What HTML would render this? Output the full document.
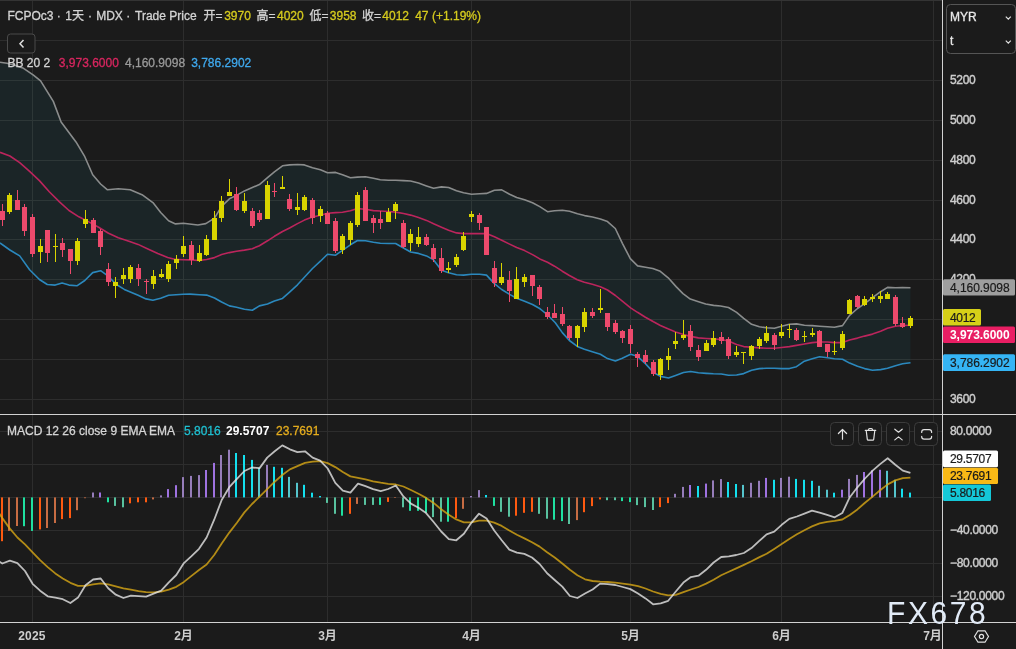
<!DOCTYPE html>
<html lang="zh"><head><meta charset="utf-8"><title>FCPOc3</title>
<style>html,body{margin:0;padding:0;background:#1b1b1b;}body{width:1016px;height:649px;overflow:hidden;position:relative;font-family:"Liberation Sans","Noto Sans CJK SC",sans-serif;}</style>
</head><body>
<svg width="1016" height="649" viewBox="0 0 1016 649" style="position:absolute;left:0;top:0;display:block" font-family="'Liberation Sans', 'Noto Sans CJK SC', sans-serif">
<rect width="1016" height="649" fill="#1b1b1b"/>
<rect x="32" y="0" width="1" height="622" fill="#2d2d2d"/>
<rect x="183" y="0" width="1" height="622" fill="#2d2d2d"/>
<rect x="327" y="0" width="1" height="622" fill="#2d2d2d"/>
<rect x="471" y="0" width="1" height="622" fill="#2d2d2d"/>
<rect x="630" y="0" width="1" height="622" fill="#2d2d2d"/>
<rect x="781" y="0" width="1" height="622" fill="#2d2d2d"/>
<rect x="933" y="0" width="1" height="622" fill="#2d2d2d"/>
<rect x="0" y="40" width="942" height="1" fill="#2d2d2d"/>
<rect x="0" y="80" width="942" height="1" fill="#2d2d2d"/>
<rect x="0" y="120" width="942" height="1" fill="#2d2d2d"/>
<rect x="0" y="160" width="942" height="1" fill="#2d2d2d"/>
<rect x="0" y="200" width="942" height="1" fill="#2d2d2d"/>
<rect x="0" y="239" width="942" height="1" fill="#2d2d2d"/>
<rect x="0" y="279" width="942" height="1" fill="#2d2d2d"/>
<rect x="0" y="319" width="942" height="1" fill="#2d2d2d"/>
<rect x="0" y="359" width="942" height="1" fill="#2d2d2d"/>
<rect x="0" y="399" width="942" height="1" fill="#2d2d2d"/>
<rect x="0" y="431" width="942" height="1" fill="#2d2d2d"/>
<rect x="0" y="464" width="942" height="1" fill="#2d2d2d"/>
<rect x="0" y="497" width="942" height="1" fill="#2d2d2d"/>
<rect x="0" y="530" width="942" height="1" fill="#2d2d2d"/>
<rect x="0" y="563" width="942" height="1" fill="#2d2d2d"/>
<rect x="0" y="596" width="942" height="1" fill="#2d2d2d"/>
<rect x="0" y="0" width="942" height="1" fill="#343434"/>
<polygon points="0.0,62.3 7.0,63.2 15.0,65.2 22.8,67.9 33.1,74.8 40.6,80.8 53.3,101.4 61.1,122.0 76.0,141.9 84.8,156.7 92.7,174.7 100.6,184.0 107.5,189.8 118.3,188.8 130.2,189.8 142.0,194.7 152.9,202.6 160.7,212.5 168.6,220.8 175.5,223.9 183.4,223.3 191.5,224.2 197.9,225.0 205.8,223.6 214.5,218.1 221.6,206.3 229.4,198.8 236.5,195.4 244.4,190.9 252.3,187.5 259.4,184.6 267.5,177.7 274.4,171.8 282.5,165.8 289.6,164.9 297.5,164.5 304.4,164.9 312.5,167.8 320.4,169.8 327.5,172.8 335.6,172.4 342.5,174.7 350.4,177.7 357.5,177.1 365.5,176.7 373.4,178.3 380.3,179.7 388.4,180.2 395.6,180.3 403.5,180.6 410.6,181.0 418.5,183.0 426.5,185.9 433.6,188.3 441.5,186.9 448.6,187.5 456.5,190.8 463.6,192.8 471.5,194.2 479.6,193.8 486.5,193.4 494.4,190.3 501.7,189.9 509.6,194.2 516.7,197.4 524.6,199.7 532.5,202.7 539.8,206.6 547.5,211.7 554.4,210.7 562.3,210.3 569.6,211.3 577.5,213.7 584.6,215.6 592.5,217.0 600.4,219.0 607.5,221.6 615.3,228.5 622.4,243.3 630.3,258.6 637.6,265.9 645.5,267.3 652.8,268.5 660.3,271.3 668.2,277.8 676.1,286.6 683.0,293.6 690.3,299.1 697.8,301.4 705.7,304.0 713.6,305.4 720.5,306.0 728.5,307.5 736.6,312.4 743.7,318.4 751.6,324.3 759.4,326.8 766.5,327.8 774.4,328.2 781.5,326.2 789.4,324.3 796.5,323.9 804.4,325.3 812.3,325.6 819.6,326.2 827.5,326.8 834.4,327.2 842.5,325.6 849.6,315.4 857.5,308.5 864.6,303.6 872.5,297.6 880.6,291.7 887.5,287.4 895.5,287.8 902.6,287.6 910.5,287.8 910.5,362.7 902.6,363.8 895.5,365.7 887.5,368.3 880.6,369.6 872.5,370.2 864.6,368.6 857.5,366.3 849.6,363.1 842.5,359.2 834.4,358.8 827.5,357.8 819.6,356.8 812.3,358.8 804.4,361.2 796.5,366.7 789.4,368.6 781.5,368.6 774.4,368.3 766.5,368.3 759.4,368.6 751.6,370.2 743.7,373.6 736.6,375.0 728.5,375.2 721.3,374.0 713.4,373.8 706.3,373.4 698.4,372.8 690.6,371.5 683.5,372.5 675.6,375.4 668.5,378.0 660.4,376.4 653.5,372.5 645.4,363.6 637.5,356.3 630.6,354.3 622.3,358.3 615.4,361.0 607.5,358.6 600.4,354.3 592.3,351.7 584.4,349.2 577.3,346.4 569.4,340.5 562.3,332.6 555.3,322.7 547.7,315.0 540.1,308.8 532.5,304.5 524.6,301.2 516.7,298.3 509.6,294.4 501.7,289.5 494.4,283.6 486.5,275.1 479.6,274.3 471.5,274.3 463.6,275.1 456.5,274.7 448.6,272.7 441.5,270.3 433.6,259.9 426.5,255.9 418.5,253.4 410.6,252.0 403.5,248.0 395.6,243.5 388.3,243.5 380.3,243.2 373.4,242.2 365.5,240.8 357.5,240.5 350.4,244.8 342.5,250.3 335.6,255.2 327.5,254.3 320.4,261.2 312.5,268.5 304.4,277.3 297.5,284.8 289.6,292.1 282.5,298.4 274.4,301.0 267.5,304.0 259.4,305.9 252.3,310.3 244.4,309.3 236.5,307.3 229.4,305.9 221.6,302.0 214.5,298.0 206.6,295.1 199.3,294.7 190.0,294.1 183.4,294.3 168.6,295.3 160.7,298.3 152.9,300.2 146.0,298.9 138.1,295.3 124.3,289.4 116.4,284.5 107.5,275.6 100.6,270.7 92.7,272.6 84.8,280.5 76.9,285.8 69.0,285.1 62.1,283.1 55.2,285.1 47.3,284.5 39.4,279.5 29.6,269.7 19.7,255.9 9.9,250.0 0.0,243.0" fill="#1b2527"/>
<g opacity="0.8">
<rect x="32" y="60" width="1" height="330" fill="#323c3d" clip-path="url(#bbclip)"/>
<rect x="183" y="60" width="1" height="330" fill="#323c3d" clip-path="url(#bbclip)"/>
<rect x="327" y="60" width="1" height="330" fill="#323c3d" clip-path="url(#bbclip)"/>
<rect x="471" y="60" width="1" height="330" fill="#323c3d" clip-path="url(#bbclip)"/>
<rect x="630" y="60" width="1" height="330" fill="#323c3d" clip-path="url(#bbclip)"/>
<rect x="781" y="60" width="1" height="330" fill="#323c3d" clip-path="url(#bbclip)"/>
<rect x="0" y="80" width="911" height="1" fill="#323c3d" clip-path="url(#bbclip)"/>
<rect x="0" y="120" width="911" height="1" fill="#323c3d" clip-path="url(#bbclip)"/>
<rect x="0" y="160" width="911" height="1" fill="#323c3d" clip-path="url(#bbclip)"/>
<rect x="0" y="200" width="911" height="1" fill="#323c3d" clip-path="url(#bbclip)"/>
<rect x="0" y="239" width="911" height="1" fill="#323c3d" clip-path="url(#bbclip)"/>
<rect x="0" y="279" width="911" height="1" fill="#323c3d" clip-path="url(#bbclip)"/>
<rect x="0" y="319" width="911" height="1" fill="#323c3d" clip-path="url(#bbclip)"/>
<rect x="0" y="359" width="911" height="1" fill="#323c3d" clip-path="url(#bbclip)"/>
<rect x="0" y="399" width="911" height="1" fill="#323c3d" clip-path="url(#bbclip)"/>
</g>
<defs><clipPath id="bbclip"><polygon points="0.0,62.3 7.0,63.2 15.0,65.2 22.8,67.9 33.1,74.8 40.6,80.8 53.3,101.4 61.1,122.0 76.0,141.9 84.8,156.7 92.7,174.7 100.6,184.0 107.5,189.8 118.3,188.8 130.2,189.8 142.0,194.7 152.9,202.6 160.7,212.5 168.6,220.8 175.5,223.9 183.4,223.3 191.5,224.2 197.9,225.0 205.8,223.6 214.5,218.1 221.6,206.3 229.4,198.8 236.5,195.4 244.4,190.9 252.3,187.5 259.4,184.6 267.5,177.7 274.4,171.8 282.5,165.8 289.6,164.9 297.5,164.5 304.4,164.9 312.5,167.8 320.4,169.8 327.5,172.8 335.6,172.4 342.5,174.7 350.4,177.7 357.5,177.1 365.5,176.7 373.4,178.3 380.3,179.7 388.4,180.2 395.6,180.3 403.5,180.6 410.6,181.0 418.5,183.0 426.5,185.9 433.6,188.3 441.5,186.9 448.6,187.5 456.5,190.8 463.6,192.8 471.5,194.2 479.6,193.8 486.5,193.4 494.4,190.3 501.7,189.9 509.6,194.2 516.7,197.4 524.6,199.7 532.5,202.7 539.8,206.6 547.5,211.7 554.4,210.7 562.3,210.3 569.6,211.3 577.5,213.7 584.6,215.6 592.5,217.0 600.4,219.0 607.5,221.6 615.3,228.5 622.4,243.3 630.3,258.6 637.6,265.9 645.5,267.3 652.8,268.5 660.3,271.3 668.2,277.8 676.1,286.6 683.0,293.6 690.3,299.1 697.8,301.4 705.7,304.0 713.6,305.4 720.5,306.0 728.5,307.5 736.6,312.4 743.7,318.4 751.6,324.3 759.4,326.8 766.5,327.8 774.4,328.2 781.5,326.2 789.4,324.3 796.5,323.9 804.4,325.3 812.3,325.6 819.6,326.2 827.5,326.8 834.4,327.2 842.5,325.6 849.6,315.4 857.5,308.5 864.6,303.6 872.5,297.6 880.6,291.7 887.5,287.4 895.5,287.8 902.6,287.6 910.5,287.8 910.5,362.7 902.6,363.8 895.5,365.7 887.5,368.3 880.6,369.6 872.5,370.2 864.6,368.6 857.5,366.3 849.6,363.1 842.5,359.2 834.4,358.8 827.5,357.8 819.6,356.8 812.3,358.8 804.4,361.2 796.5,366.7 789.4,368.6 781.5,368.6 774.4,368.3 766.5,368.3 759.4,368.6 751.6,370.2 743.7,373.6 736.6,375.0 728.5,375.2 721.3,374.0 713.4,373.8 706.3,373.4 698.4,372.8 690.6,371.5 683.5,372.5 675.6,375.4 668.5,378.0 660.4,376.4 653.5,372.5 645.4,363.6 637.5,356.3 630.6,354.3 622.3,358.3 615.4,361.0 607.5,358.6 600.4,354.3 592.3,351.7 584.4,349.2 577.3,346.4 569.4,340.5 562.3,332.6 555.3,322.7 547.7,315.0 540.1,308.8 532.5,304.5 524.6,301.2 516.7,298.3 509.6,294.4 501.7,289.5 494.4,283.6 486.5,275.1 479.6,274.3 471.5,274.3 463.6,275.1 456.5,274.7 448.6,272.7 441.5,270.3 433.6,259.9 426.5,255.9 418.5,253.4 410.6,252.0 403.5,248.0 395.6,243.5 388.3,243.5 380.3,243.2 373.4,242.2 365.5,240.8 357.5,240.5 350.4,244.8 342.5,250.3 335.6,255.2 327.5,254.3 320.4,261.2 312.5,268.5 304.4,277.3 297.5,284.8 289.6,292.1 282.5,298.4 274.4,301.0 267.5,304.0 259.4,305.9 252.3,310.3 244.4,309.3 236.5,307.3 229.4,305.9 221.6,302.0 214.5,298.0 206.6,295.1 199.3,294.7 190.0,294.1 183.4,294.3 168.6,295.3 160.7,298.3 152.9,300.2 146.0,298.9 138.1,295.3 124.3,289.4 116.4,284.5 107.5,275.6 100.6,270.7 92.7,272.6 84.8,280.5 76.9,285.8 69.0,285.1 62.1,283.1 55.2,285.1 47.3,284.5 39.4,279.5 29.6,269.7 19.7,255.9 9.9,250.0 0.0,243.0"/></clipPath></defs>
<polyline points="0.0,62.3 7.0,63.2 15.0,65.2 22.8,67.9 33.1,74.8 40.6,80.8 53.3,101.4 61.1,122.0 76.0,141.9 84.8,156.7 92.7,174.7 100.6,184.0 107.5,189.8 118.3,188.8 130.2,189.8 142.0,194.7 152.9,202.6 160.7,212.5 168.6,220.8 175.5,223.9 183.4,223.3 191.5,224.2 197.9,225.0 205.8,223.6 214.5,218.1 221.6,206.3 229.4,198.8 236.5,195.4 244.4,190.9 252.3,187.5 259.4,184.6 267.5,177.7 274.4,171.8 282.5,165.8 289.6,164.9 297.5,164.5 304.4,164.9 312.5,167.8 320.4,169.8 327.5,172.8 335.6,172.4 342.5,174.7 350.4,177.7 357.5,177.1 365.5,176.7 373.4,178.3 380.3,179.7 388.4,180.2 395.6,180.3 403.5,180.6 410.6,181.0 418.5,183.0 426.5,185.9 433.6,188.3 441.5,186.9 448.6,187.5 456.5,190.8 463.6,192.8 471.5,194.2 479.6,193.8 486.5,193.4 494.4,190.3 501.7,189.9 509.6,194.2 516.7,197.4 524.6,199.7 532.5,202.7 539.8,206.6 547.5,211.7 554.4,210.7 562.3,210.3 569.6,211.3 577.5,213.7 584.6,215.6 592.5,217.0 600.4,219.0 607.5,221.6 615.3,228.5 622.4,243.3 630.3,258.6 637.6,265.9 645.5,267.3 652.8,268.5 660.3,271.3 668.2,277.8 676.1,286.6 683.0,293.6 690.3,299.1 697.8,301.4 705.7,304.0 713.6,305.4 720.5,306.0 728.5,307.5 736.6,312.4 743.7,318.4 751.6,324.3 759.4,326.8 766.5,327.8 774.4,328.2 781.5,326.2 789.4,324.3 796.5,323.9 804.4,325.3 812.3,325.6 819.6,326.2 827.5,326.8 834.4,327.2 842.5,325.6 849.6,315.4 857.5,308.5 864.6,303.6 872.5,297.6 880.6,291.7 887.5,287.4 895.5,287.8 902.6,287.6 910.5,287.8" fill="none" stroke="#8a8c8c" stroke-width="1.6" stroke-linejoin="round"/>
<polyline points="0.0,243.0 9.9,250.0 19.7,255.9 29.6,269.7 39.4,279.5 47.3,284.5 55.2,285.1 62.1,283.1 69.0,285.1 76.9,285.8 84.8,280.5 92.7,272.6 100.6,270.7 107.5,275.6 116.4,284.5 124.3,289.4 138.1,295.3 146.0,298.9 152.9,300.2 160.7,298.3 168.6,295.3 183.4,294.3 190.0,294.1 199.3,294.7 206.6,295.1 214.5,298.0 221.6,302.0 229.4,305.9 236.5,307.3 244.4,309.3 252.3,310.3 259.4,305.9 267.5,304.0 274.4,301.0 282.5,298.4 289.6,292.1 297.5,284.8 304.4,277.3 312.5,268.5 320.4,261.2 327.5,254.3 335.6,255.2 342.5,250.3 350.4,244.8 357.5,240.5 365.5,240.8 373.4,242.2 380.3,243.2 388.3,243.5 395.6,243.5 403.5,248.0 410.6,252.0 418.5,253.4 426.5,255.9 433.6,259.9 441.5,270.3 448.6,272.7 456.5,274.7 463.6,275.1 471.5,274.3 479.6,274.3 486.5,275.1 494.4,283.6 501.7,289.5 509.6,294.4 516.7,298.3 524.6,301.2 532.5,304.5 540.1,308.8 547.7,315.0 555.3,322.7 562.3,332.6 569.4,340.5 577.3,346.4 584.4,349.2 592.3,351.7 600.4,354.3 607.5,358.6 615.4,361.0 622.3,358.3 630.6,354.3 637.5,356.3 645.4,363.6 653.5,372.5 660.4,376.4 668.5,378.0 675.6,375.4 683.5,372.5 690.6,371.5 698.4,372.8 706.3,373.4 713.4,373.8 721.3,374.0 728.5,375.2 736.6,375.0 743.7,373.6 751.6,370.2 759.4,368.6 766.5,368.3 774.4,368.3 781.5,368.6 789.4,368.6 796.5,366.7 804.4,361.2 812.3,358.8 819.6,356.8 827.5,357.8 834.4,358.8 842.5,359.2 849.6,363.1 857.5,366.3 864.6,368.6 872.5,370.2 880.6,369.6 887.5,368.3 895.5,365.7 902.6,363.8 910.5,362.7" fill="none" stroke="#2b88bd" stroke-width="1.6" stroke-linejoin="round"/>
<polyline points="0.0,152.3 9.9,156.0 19.7,162.6 29.6,171.4 39.4,180.6 49.3,191.8 59.2,201.6 69.0,210.5 78.9,216.8 88.8,221.9 98.6,227.3 108.5,233.2 118.3,237.7 128.2,241.1 138.1,244.4 147.9,249.0 157.8,253.5 167.7,257.4 175.5,259.4 183.4,259.8 190.0,259.9 199.3,260.5 206.6,259.5 214.5,257.6 221.6,254.6 229.4,252.6 236.5,251.3 244.4,250.1 252.3,248.7 259.4,245.7 267.5,240.8 274.4,236.3 282.5,231.5 289.6,228.0 297.5,223.6 304.4,220.1 312.5,217.1 320.4,215.2 327.5,213.2 335.6,212.6 342.5,212.2 350.4,210.8 357.5,208.6 365.5,209.2 373.4,210.6 380.3,211.0 388.3,211.5 395.6,212.1 403.5,213.5 410.6,215.1 418.5,217.5 426.5,220.4 433.6,223.8 441.5,227.3 448.6,230.3 456.5,232.9 463.6,233.6 471.5,233.6 479.6,233.6 486.5,233.6 494.4,236.8 501.7,240.2 509.6,244.1 516.7,247.5 524.6,250.6 532.5,254.6 539.8,258.9 547.5,262.2 554.5,266.2 562.3,271.2 569.4,275.5 577.3,279.8 584.4,282.3 592.3,284.3 600.4,286.7 607.5,290.0 615.4,295.5 622.3,301.1 630.6,307.8 637.5,312.3 645.4,317.2 653.5,321.8 660.4,325.5 668.5,329.1 675.6,332.0 683.5,334.6 690.6,336.4 698.4,337.9 706.3,338.5 713.4,338.9 721.3,339.5 728.5,341.0 736.6,344.6 743.7,346.6 751.6,347.3 759.4,347.9 766.5,348.3 774.4,348.3 781.5,347.5 789.4,346.6 796.5,345.4 804.4,344.0 812.3,342.6 819.6,342.0 827.5,342.0 834.4,342.6 842.5,342.6 849.6,340.0 857.5,338.1 864.6,336.1 872.5,334.1 880.6,331.2 887.5,328.2 895.5,326.2 902.6,325.5 910.5,325.3" fill="none" stroke="#bb255c" stroke-width="1.6" stroke-linejoin="round"/>
<rect x="2" y="204" width="1" height="22" fill="#ec4a6c"/>
<rect x="0" y="211" width="5" height="9" fill="#ec4a6c"/>
<rect x="9" y="193" width="1" height="21" fill="#d9d400"/>
<rect x="7" y="195" width="5" height="17" fill="#d9d400"/>
<rect x="17" y="190" width="1" height="20" fill="#ec4a6c"/>
<rect x="15" y="200" width="5" height="10" fill="#ec4a6c"/>
<rect x="24" y="204" width="1" height="32" fill="#ec4a6c"/>
<rect x="22" y="207" width="5" height="24" fill="#ec4a6c"/>
<rect x="32" y="214" width="1" height="43" fill="#ec4a6c"/>
<rect x="30" y="217" width="5" height="37" fill="#ec4a6c"/>
<rect x="40" y="239" width="1" height="24" fill="#d9d400"/>
<rect x="38" y="246" width="5" height="6" fill="#d9d400"/>
<rect x="47" y="230" width="1" height="32" fill="#ec4a6c"/>
<rect x="45" y="230" width="5" height="23" fill="#ec4a6c"/>
<rect x="55" y="234" width="1" height="28" fill="#d9d400"/>
<rect x="53" y="246" width="5" height="1" fill="#d9d400"/>
<rect x="62" y="238" width="1" height="19" fill="#ec4a6c"/>
<rect x="60" y="243" width="5" height="7" fill="#ec4a6c"/>
<rect x="70" y="249" width="1" height="25" fill="#ec4a6c"/>
<rect x="68" y="249" width="5" height="12" fill="#ec4a6c"/>
<rect x="77" y="238" width="1" height="27" fill="#d9d400"/>
<rect x="75" y="241" width="5" height="20" fill="#d9d400"/>
<rect x="85" y="210" width="1" height="18" fill="#d9d400"/>
<rect x="83" y="219" width="5" height="5" fill="#d9d400"/>
<rect x="93" y="218" width="1" height="15" fill="#ec4a6c"/>
<rect x="91" y="220" width="5" height="13" fill="#ec4a6c"/>
<rect x="100" y="229" width="1" height="26" fill="#ec4a6c"/>
<rect x="98" y="231" width="5" height="16" fill="#ec4a6c"/>
<rect x="108" y="263" width="1" height="23" fill="#ec4a6c"/>
<rect x="106" y="269" width="5" height="13" fill="#ec4a6c"/>
<rect x="115" y="277" width="1" height="21" fill="#d9d400"/>
<rect x="113" y="282" width="5" height="4" fill="#d9d400"/>
<rect x="123" y="268" width="1" height="16" fill="#d9d400"/>
<rect x="121" y="275" width="5" height="4" fill="#d9d400"/>
<rect x="130" y="265" width="1" height="18" fill="#d9d400"/>
<rect x="128" y="267" width="5" height="12" fill="#d9d400"/>
<rect x="138" y="264" width="1" height="22" fill="#ec4a6c"/>
<rect x="136" y="268" width="5" height="11" fill="#ec4a6c"/>
<rect x="146" y="279" width="1" height="15" fill="#ec4a6c"/>
<rect x="144" y="281" width="5" height="1" fill="#ec4a6c"/>
<rect x="153" y="270" width="1" height="19" fill="#d9d400"/>
<rect x="151" y="276" width="5" height="8" fill="#d9d400"/>
<rect x="161" y="269" width="1" height="9" fill="#d9d400"/>
<rect x="159" y="274" width="5" height="3" fill="#d9d400"/>
<rect x="168" y="261" width="1" height="21" fill="#d9d400"/>
<rect x="166" y="264" width="5" height="15" fill="#d9d400"/>
<rect x="176" y="255" width="1" height="14" fill="#d9d400"/>
<rect x="174" y="259" width="5" height="4" fill="#d9d400"/>
<rect x="183" y="236" width="1" height="21" fill="#d9d400"/>
<rect x="181" y="246" width="5" height="8" fill="#d9d400"/>
<rect x="191" y="241" width="1" height="24" fill="#ec4a6c"/>
<rect x="189" y="245" width="5" height="15" fill="#ec4a6c"/>
<rect x="199" y="245" width="1" height="17" fill="#d9d400"/>
<rect x="197" y="253" width="5" height="8" fill="#d9d400"/>
<rect x="206" y="235" width="1" height="21" fill="#d9d400"/>
<rect x="204" y="239" width="5" height="16" fill="#d9d400"/>
<rect x="214" y="211" width="1" height="29" fill="#d9d400"/>
<rect x="212" y="218" width="5" height="22" fill="#d9d400"/>
<rect x="221" y="196" width="1" height="26" fill="#d9d400"/>
<rect x="219" y="201" width="5" height="17" fill="#d9d400"/>
<rect x="229" y="179" width="1" height="17" fill="#d9d400"/>
<rect x="227" y="192" width="5" height="4" fill="#d9d400"/>
<rect x="236" y="187" width="1" height="24" fill="#ec4a6c"/>
<rect x="234" y="194" width="5" height="16" fill="#ec4a6c"/>
<rect x="244" y="193" width="1" height="20" fill="#d9d400"/>
<rect x="242" y="201" width="5" height="10" fill="#d9d400"/>
<rect x="252" y="208" width="1" height="20" fill="#ec4a6c"/>
<rect x="250" y="211" width="5" height="15" fill="#ec4a6c"/>
<rect x="259" y="210" width="1" height="12" fill="#ec4a6c"/>
<rect x="257" y="213" width="5" height="7" fill="#ec4a6c"/>
<rect x="267" y="181" width="1" height="38" fill="#d9d400"/>
<rect x="265" y="185" width="5" height="34" fill="#d9d400"/>
<rect x="274" y="183" width="1" height="14" fill="#ec4a6c"/>
<rect x="272" y="191" width="5" height="1" fill="#ec4a6c"/>
<rect x="282" y="176" width="1" height="13" fill="#d9d400"/>
<rect x="280" y="187" width="5" height="2" fill="#d9d400"/>
<rect x="289" y="194" width="1" height="17" fill="#ec4a6c"/>
<rect x="287" y="199" width="5" height="10" fill="#ec4a6c"/>
<rect x="297" y="193" width="1" height="22" fill="#d9d400"/>
<rect x="295" y="207" width="5" height="3" fill="#d9d400"/>
<rect x="304" y="195" width="1" height="16" fill="#d9d400"/>
<rect x="302" y="197" width="5" height="13" fill="#d9d400"/>
<rect x="312" y="198" width="1" height="26" fill="#ec4a6c"/>
<rect x="310" y="200" width="5" height="18" fill="#ec4a6c"/>
<rect x="320" y="206" width="1" height="16" fill="#d9d400"/>
<rect x="318" y="209" width="5" height="7" fill="#d9d400"/>
<rect x="327" y="211" width="1" height="13" fill="#ec4a6c"/>
<rect x="325" y="213" width="5" height="11" fill="#ec4a6c"/>
<rect x="335" y="218" width="1" height="35" fill="#ec4a6c"/>
<rect x="333" y="221" width="5" height="30" fill="#ec4a6c"/>
<rect x="342" y="234" width="1" height="20" fill="#d9d400"/>
<rect x="340" y="236" width="5" height="14" fill="#d9d400"/>
<rect x="350" y="221" width="1" height="24" fill="#d9d400"/>
<rect x="348" y="223" width="5" height="17" fill="#d9d400"/>
<rect x="357" y="192" width="1" height="35" fill="#d9d400"/>
<rect x="355" y="195" width="5" height="30" fill="#d9d400"/>
<rect x="365" y="187" width="1" height="34" fill="#ec4a6c"/>
<rect x="363" y="190" width="5" height="31" fill="#ec4a6c"/>
<rect x="373" y="215" width="1" height="18" fill="#ec4a6c"/>
<rect x="371" y="218" width="5" height="5" fill="#ec4a6c"/>
<rect x="380" y="211" width="1" height="18" fill="#ec4a6c"/>
<rect x="378" y="219" width="5" height="4" fill="#ec4a6c"/>
<rect x="388" y="208" width="1" height="14" fill="#d9d400"/>
<rect x="386" y="212" width="5" height="10" fill="#d9d400"/>
<rect x="395" y="202" width="1" height="17" fill="#d9d400"/>
<rect x="393" y="204" width="5" height="7" fill="#d9d400"/>
<rect x="403" y="220" width="1" height="28" fill="#ec4a6c"/>
<rect x="401" y="223" width="5" height="24" fill="#ec4a6c"/>
<rect x="410" y="229" width="1" height="22" fill="#d9d400"/>
<rect x="408" y="234" width="5" height="9" fill="#d9d400"/>
<rect x="418" y="227" width="1" height="20" fill="#d9d400"/>
<rect x="416" y="237" width="5" height="7" fill="#d9d400"/>
<rect x="426" y="234" width="1" height="12" fill="#ec4a6c"/>
<rect x="424" y="237" width="5" height="8" fill="#ec4a6c"/>
<rect x="433" y="244" width="1" height="18" fill="#ec4a6c"/>
<rect x="431" y="248" width="5" height="11" fill="#ec4a6c"/>
<rect x="441" y="248" width="1" height="25" fill="#ec4a6c"/>
<rect x="439" y="258" width="5" height="13" fill="#ec4a6c"/>
<rect x="448" y="262" width="1" height="11" fill="#d9d400"/>
<rect x="446" y="268" width="5" height="2" fill="#d9d400"/>
<rect x="456" y="254" width="1" height="13" fill="#d9d400"/>
<rect x="454" y="257" width="5" height="8" fill="#d9d400"/>
<rect x="463" y="232" width="1" height="19" fill="#d9d400"/>
<rect x="461" y="236" width="5" height="14" fill="#d9d400"/>
<rect x="471" y="211" width="1" height="11" fill="#d9d400"/>
<rect x="469" y="214" width="5" height="3" fill="#d9d400"/>
<rect x="479" y="213" width="1" height="17" fill="#ec4a6c"/>
<rect x="477" y="215" width="5" height="8" fill="#ec4a6c"/>
<rect x="486" y="227" width="1" height="28" fill="#ec4a6c"/>
<rect x="484" y="227" width="5" height="28" fill="#ec4a6c"/>
<rect x="494" y="261" width="1" height="26" fill="#ec4a6c"/>
<rect x="492" y="268" width="5" height="15" fill="#ec4a6c"/>
<rect x="501" y="263" width="1" height="22" fill="#d9d400"/>
<rect x="499" y="277" width="5" height="6" fill="#d9d400"/>
<rect x="509" y="271" width="1" height="31" fill="#ec4a6c"/>
<rect x="507" y="280" width="5" height="11" fill="#ec4a6c"/>
<rect x="516" y="267" width="1" height="32" fill="#d9d400"/>
<rect x="514" y="279" width="5" height="20" fill="#d9d400"/>
<rect x="524" y="274" width="1" height="13" fill="#d9d400"/>
<rect x="522" y="277" width="5" height="5" fill="#d9d400"/>
<rect x="532" y="275" width="1" height="21" fill="#ec4a6c"/>
<rect x="530" y="275" width="5" height="11" fill="#ec4a6c"/>
<rect x="539" y="285" width="1" height="20" fill="#ec4a6c"/>
<rect x="537" y="287" width="5" height="12" fill="#ec4a6c"/>
<rect x="547" y="307" width="1" height="12" fill="#ec4a6c"/>
<rect x="545" y="312" width="5" height="5" fill="#ec4a6c"/>
<rect x="554" y="304" width="1" height="14" fill="#ec4a6c"/>
<rect x="552" y="313" width="5" height="5" fill="#ec4a6c"/>
<rect x="562" y="307" width="1" height="19" fill="#ec4a6c"/>
<rect x="560" y="314" width="5" height="10" fill="#ec4a6c"/>
<rect x="569" y="325" width="1" height="15" fill="#ec4a6c"/>
<rect x="567" y="326" width="5" height="12" fill="#ec4a6c"/>
<rect x="577" y="325" width="1" height="22" fill="#d9d400"/>
<rect x="575" y="326" width="5" height="12" fill="#d9d400"/>
<rect x="584" y="308" width="1" height="24" fill="#d9d400"/>
<rect x="582" y="312" width="5" height="15" fill="#d9d400"/>
<rect x="592" y="308" width="1" height="10" fill="#ec4a6c"/>
<rect x="590" y="312" width="5" height="4" fill="#ec4a6c"/>
<rect x="600" y="289" width="1" height="24" fill="#d9d400"/>
<rect x="598" y="308" width="5" height="2" fill="#d9d400"/>
<rect x="607" y="313" width="1" height="18" fill="#ec4a6c"/>
<rect x="605" y="313" width="5" height="14" fill="#ec4a6c"/>
<rect x="615" y="320" width="1" height="14" fill="#ec4a6c"/>
<rect x="613" y="323" width="5" height="9" fill="#ec4a6c"/>
<rect x="622" y="330" width="1" height="13" fill="#ec4a6c"/>
<rect x="620" y="331" width="5" height="7" fill="#ec4a6c"/>
<rect x="630" y="325" width="1" height="28" fill="#ec4a6c"/>
<rect x="628" y="329" width="5" height="15" fill="#ec4a6c"/>
<rect x="637" y="352" width="1" height="15" fill="#ec4a6c"/>
<rect x="635" y="354" width="5" height="4" fill="#ec4a6c"/>
<rect x="645" y="350" width="1" height="14" fill="#ec4a6c"/>
<rect x="643" y="355" width="5" height="7" fill="#ec4a6c"/>
<rect x="653" y="360" width="1" height="16" fill="#ec4a6c"/>
<rect x="651" y="362" width="5" height="12" fill="#ec4a6c"/>
<rect x="660" y="358" width="1" height="22" fill="#d9d400"/>
<rect x="658" y="359" width="5" height="16" fill="#d9d400"/>
<rect x="668" y="348" width="1" height="22" fill="#d9d400"/>
<rect x="666" y="356" width="5" height="4" fill="#d9d400"/>
<rect x="675" y="332" width="1" height="17" fill="#d9d400"/>
<rect x="673" y="341" width="5" height="3" fill="#d9d400"/>
<rect x="683" y="320" width="1" height="20" fill="#d9d400"/>
<rect x="681" y="335" width="5" height="3" fill="#d9d400"/>
<rect x="690" y="325" width="1" height="26" fill="#ec4a6c"/>
<rect x="688" y="331" width="5" height="16" fill="#ec4a6c"/>
<rect x="698" y="345" width="1" height="16" fill="#ec4a6c"/>
<rect x="696" y="350" width="5" height="7" fill="#ec4a6c"/>
<rect x="706" y="340" width="1" height="11" fill="#d9d400"/>
<rect x="704" y="343" width="5" height="8" fill="#d9d400"/>
<rect x="713" y="331" width="1" height="16" fill="#d9d400"/>
<rect x="711" y="338" width="5" height="7" fill="#d9d400"/>
<rect x="721" y="332" width="1" height="12" fill="#ec4a6c"/>
<rect x="719" y="337" width="5" height="4" fill="#ec4a6c"/>
<rect x="728" y="337" width="1" height="22" fill="#ec4a6c"/>
<rect x="726" y="339" width="5" height="17" fill="#ec4a6c"/>
<rect x="736" y="346" width="1" height="11" fill="#d9d400"/>
<rect x="734" y="352" width="5" height="3" fill="#d9d400"/>
<rect x="743" y="352" width="1" height="12" fill="#d9d400"/>
<rect x="741" y="352" width="5" height="1" fill="#d9d400"/>
<rect x="751" y="345" width="1" height="15" fill="#d9d400"/>
<rect x="749" y="346" width="5" height="10" fill="#d9d400"/>
<rect x="759" y="337" width="1" height="12" fill="#d9d400"/>
<rect x="757" y="339" width="5" height="7" fill="#d9d400"/>
<rect x="766" y="326" width="1" height="17" fill="#d9d400"/>
<rect x="764" y="333" width="5" height="8" fill="#d9d400"/>
<rect x="774" y="333" width="1" height="17" fill="#ec4a6c"/>
<rect x="772" y="335" width="5" height="10" fill="#ec4a6c"/>
<rect x="781" y="324" width="1" height="14" fill="#d9d400"/>
<rect x="779" y="332" width="5" height="4" fill="#d9d400"/>
<rect x="789" y="324" width="1" height="14" fill="#d9d400"/>
<rect x="787" y="329" width="5" height="1" fill="#d9d400"/>
<rect x="796" y="328" width="1" height="13" fill="#ec4a6c"/>
<rect x="794" y="330" width="5" height="10" fill="#ec4a6c"/>
<rect x="804" y="331" width="1" height="11" fill="#d9d400"/>
<rect x="802" y="336" width="5" height="1" fill="#d9d400"/>
<rect x="812" y="328" width="1" height="9" fill="#d9d400"/>
<rect x="810" y="333" width="5" height="2" fill="#d9d400"/>
<rect x="819" y="330" width="1" height="17" fill="#ec4a6c"/>
<rect x="817" y="331" width="5" height="16" fill="#ec4a6c"/>
<rect x="827" y="344" width="1" height="13" fill="#ec4a6c"/>
<rect x="825" y="344" width="5" height="8" fill="#ec4a6c"/>
<rect x="834" y="341" width="1" height="14" fill="#d9d400"/>
<rect x="832" y="351" width="5" height="1" fill="#d9d400"/>
<rect x="842" y="331" width="1" height="19" fill="#d9d400"/>
<rect x="840" y="334" width="5" height="14" fill="#d9d400"/>
<rect x="849" y="299" width="1" height="15" fill="#d9d400"/>
<rect x="847" y="300" width="5" height="14" fill="#d9d400"/>
<rect x="857" y="295" width="1" height="13" fill="#ec4a6c"/>
<rect x="855" y="296" width="5" height="11" fill="#ec4a6c"/>
<rect x="864" y="296" width="1" height="10" fill="#d9d400"/>
<rect x="862" y="299" width="5" height="6" fill="#d9d400"/>
<rect x="872" y="294" width="1" height="8" fill="#d9d400"/>
<rect x="870" y="297" width="5" height="2" fill="#d9d400"/>
<rect x="880" y="291" width="1" height="12" fill="#d9d400"/>
<rect x="878" y="296" width="5" height="3" fill="#d9d400"/>
<rect x="887" y="292" width="1" height="7" fill="#d9d400"/>
<rect x="885" y="294" width="5" height="5" fill="#d9d400"/>
<rect x="895" y="295" width="1" height="31" fill="#ec4a6c"/>
<rect x="893" y="297" width="5" height="27" fill="#ec4a6c"/>
<rect x="902" y="317" width="1" height="11" fill="#ec4a6c"/>
<rect x="900" y="323" width="5" height="4" fill="#ec4a6c"/>
<rect x="910" y="316" width="1" height="12" fill="#d9d400"/>
<rect x="908" y="318" width="5" height="8" fill="#d9d400"/>
<rect x="1" y="497.4" width="2" height="43.8" fill="#ff5a10"/>
<rect x="8" y="497.4" width="2" height="33.5" fill="#c76c43"/>
<rect x="16" y="497.4" width="2" height="28.6" fill="#c76c43"/>
<rect x="23" y="497.4" width="2" height="28.8" fill="#1fe0a0"/>
<rect x="31" y="497.4" width="2" height="33.5" fill="#1fe0a0"/>
<rect x="39" y="497.4" width="2" height="32.0" fill="#ff5a10"/>
<rect x="46" y="497.4" width="2" height="30.6" fill="#c76c43"/>
<rect x="54" y="497.4" width="2" height="25.6" fill="#c76c43"/>
<rect x="61" y="497.4" width="2" height="21.7" fill="#ff5a10"/>
<rect x="69" y="497.4" width="2" height="20.7" fill="#ff5a10"/>
<rect x="76" y="497.4" width="2" height="12.8" fill="#c76c43"/>
<rect x="84" y="497.4" width="2" height="0.8" fill="#c76c43"/>
<rect x="92" y="492.5" width="2" height="4.9" fill="#967dba"/>
<rect x="99" y="492.5" width="2" height="4.9" fill="#9f72e0"/>
<rect x="107" y="497.4" width="2" height="4.9" fill="#1fe0a0"/>
<rect x="114" y="497.4" width="2" height="8.5" fill="#58c29f"/>
<rect x="122" y="497.4" width="2" height="9.9" fill="#58c29f"/>
<rect x="129" y="497.4" width="2" height="5.9" fill="#ff5a10"/>
<rect x="137" y="497.4" width="2" height="4.9" fill="#ff5a10"/>
<rect x="145" y="497.4" width="2" height="4.9" fill="#ff5a10"/>
<rect x="152" y="497.4" width="2" height="2.0" fill="#c76c43"/>
<rect x="160" y="495.4" width="2" height="2.0" fill="#967dba"/>
<rect x="167" y="489.1" width="2" height="8.3" fill="#9f72e0"/>
<rect x="175" y="485.2" width="2" height="12.2" fill="#9f72e0"/>
<rect x="182" y="477.1" width="2" height="20.3" fill="#967dba"/>
<rect x="190" y="475.9" width="2" height="21.5" fill="#967dba"/>
<rect x="198" y="475.1" width="2" height="22.3" fill="#967dba"/>
<rect x="205" y="470.0" width="2" height="27.4" fill="#9f72e0"/>
<rect x="213" y="462.9" width="2" height="34.5" fill="#9f72e0"/>
<rect x="220" y="455.0" width="2" height="42.4" fill="#967dba"/>
<rect x="228" y="449.7" width="2" height="47.7" fill="#967dba"/>
<rect x="235" y="453.0" width="2" height="44.4" fill="#14e0ee"/>
<rect x="243" y="455.0" width="2" height="42.4" fill="#14e0ee"/>
<rect x="251" y="459.9" width="2" height="37.5" fill="#14e0ee"/>
<rect x="258" y="467.8" width="2" height="29.6" fill="#55c5cc"/>
<rect x="266" y="464.9" width="2" height="32.5" fill="#967dba"/>
<rect x="273" y="466.8" width="2" height="30.6" fill="#14e0ee"/>
<rect x="281" y="467.8" width="2" height="29.6" fill="#14e0ee"/>
<rect x="288" y="476.9" width="2" height="20.5" fill="#55c5cc"/>
<rect x="296" y="482.8" width="2" height="14.6" fill="#55c5cc"/>
<rect x="303" y="484.8" width="2" height="12.6" fill="#14e0ee"/>
<rect x="311" y="492.7" width="2" height="4.7" fill="#14e0ee"/>
<rect x="319" y="496.0" width="2" height="1.4" fill="#14e0ee"/>
<rect x="326" y="497.4" width="2" height="5.5" fill="#58c29f"/>
<rect x="334" y="497.4" width="2" height="16.4" fill="#58c29f"/>
<rect x="341" y="497.4" width="2" height="18.3" fill="#1fe0a0"/>
<rect x="349" y="497.4" width="2" height="16.4" fill="#ff5a10"/>
<rect x="356" y="497.4" width="2" height="6.5" fill="#c76c43"/>
<rect x="364" y="497.4" width="2" height="7.5" fill="#58c29f"/>
<rect x="372" y="497.4" width="2" height="7.5" fill="#58c29f"/>
<rect x="379" y="497.4" width="2" height="7.5" fill="#1fe0a0"/>
<rect x="387" y="497.4" width="2" height="4.5" fill="#ff5a10"/>
<rect x="394" y="497.4" width="2" height="0.6" fill="#c76c43"/>
<rect x="402" y="497.4" width="2" height="9.9" fill="#58c29f"/>
<rect x="409" y="497.4" width="2" height="13.4" fill="#1fe0a0"/>
<rect x="417" y="497.4" width="2" height="13.4" fill="#1fe0a0"/>
<rect x="425" y="497.4" width="2" height="15.4" fill="#1fe0a0"/>
<rect x="432" y="497.4" width="2" height="19.7" fill="#58c29f"/>
<rect x="440" y="497.4" width="2" height="24.3" fill="#58c29f"/>
<rect x="447" y="497.4" width="2" height="24.3" fill="#1fe0a0"/>
<rect x="455" y="497.4" width="2" height="20.7" fill="#ff5a10"/>
<rect x="462" y="497.4" width="2" height="11.4" fill="#c76c43"/>
<rect x="470" y="496.0" width="2" height="1.4" fill="#967dba"/>
<rect x="478" y="490.1" width="2" height="7.3" fill="#967dba"/>
<rect x="485" y="495.0" width="2" height="2.4" fill="#14e0ee"/>
<rect x="493" y="497.4" width="2" height="8.5" fill="#1fe0a0"/>
<rect x="500" y="497.4" width="2" height="14.4" fill="#58c29f"/>
<rect x="508" y="497.4" width="2" height="19.3" fill="#58c29f"/>
<rect x="515" y="497.4" width="2" height="18.3" fill="#ff5a10"/>
<rect x="523" y="497.4" width="2" height="15.4" fill="#ff5a10"/>
<rect x="531" y="497.4" width="2" height="14.4" fill="#ff5a10"/>
<rect x="538" y="497.4" width="2" height="16.4" fill="#58c29f"/>
<rect x="546" y="497.4" width="2" height="21.3" fill="#58c29f"/>
<rect x="553" y="497.4" width="2" height="22.3" fill="#1fe0a0"/>
<rect x="561" y="497.4" width="2" height="23.7" fill="#1fe0a0"/>
<rect x="568" y="497.4" width="2" height="26.6" fill="#58c29f"/>
<rect x="576" y="497.4" width="2" height="22.7" fill="#c76c43"/>
<rect x="583" y="497.4" width="2" height="14.8" fill="#ff5a10"/>
<rect x="591" y="497.4" width="2" height="8.7" fill="#ff5a10"/>
<rect x="599" y="497.4" width="2" height="2.0" fill="#ff5a10"/>
<rect x="606" y="497.4" width="2" height="2.8" fill="#58c29f"/>
<rect x="614" y="497.4" width="2" height="2.8" fill="#58c29f"/>
<rect x="621" y="497.4" width="2" height="3.7" fill="#1fe0a0"/>
<rect x="629" y="497.4" width="2" height="4.7" fill="#1fe0a0"/>
<rect x="636" y="497.4" width="2" height="7.7" fill="#58c29f"/>
<rect x="644" y="497.4" width="2" height="9.7" fill="#58c29f"/>
<rect x="652" y="497.4" width="2" height="12.6" fill="#58c29f"/>
<rect x="659" y="497.4" width="2" height="9.7" fill="#ff5a10"/>
<rect x="667" y="497.4" width="2" height="5.7" fill="#ff5a10"/>
<rect x="674" y="493.8" width="2" height="3.6" fill="#967dba"/>
<rect x="682" y="486.9" width="2" height="10.5" fill="#967dba"/>
<rect x="689" y="485.0" width="2" height="12.4" fill="#9f72e0"/>
<rect x="697" y="486.0" width="2" height="11.4" fill="#14e0ee"/>
<rect x="705" y="483.6" width="2" height="13.8" fill="#9f72e0"/>
<rect x="712" y="480.4" width="2" height="17.0" fill="#967dba"/>
<rect x="720" y="479.1" width="2" height="18.3" fill="#967dba"/>
<rect x="727" y="482.0" width="2" height="15.4" fill="#14e0ee"/>
<rect x="735" y="484.0" width="2" height="13.4" fill="#14e0ee"/>
<rect x="742" y="484.9" width="2" height="12.5" fill="#55c5cc"/>
<rect x="750" y="482.8" width="2" height="14.6" fill="#967dba"/>
<rect x="758" y="480.8" width="2" height="16.6" fill="#967dba"/>
<rect x="765" y="477.9" width="2" height="19.5" fill="#9f72e0"/>
<rect x="773" y="479.8" width="2" height="17.6" fill="#14e0ee"/>
<rect x="780" y="477.9" width="2" height="19.5" fill="#967dba"/>
<rect x="788" y="476.7" width="2" height="20.7" fill="#967dba"/>
<rect x="795" y="478.9" width="2" height="18.5" fill="#14e0ee"/>
<rect x="803" y="479.8" width="2" height="17.6" fill="#14e0ee"/>
<rect x="811" y="480.8" width="2" height="16.6" fill="#14e0ee"/>
<rect x="818" y="485.8" width="2" height="11.6" fill="#55c5cc"/>
<rect x="826" y="489.7" width="2" height="7.7" fill="#55c5cc"/>
<rect x="833" y="492.7" width="2" height="4.7" fill="#14e0ee"/>
<rect x="841" y="489.7" width="2" height="7.7" fill="#9f72e0"/>
<rect x="848" y="478.9" width="2" height="18.5" fill="#967dba"/>
<rect x="856" y="474.9" width="2" height="22.5" fill="#967dba"/>
<rect x="863" y="472.0" width="2" height="25.4" fill="#9f72e0"/>
<rect x="871" y="470.4" width="2" height="27.0" fill="#9f72e0"/>
<rect x="879" y="469.8" width="2" height="27.6" fill="#9f72e0"/>
<rect x="886" y="470.8" width="2" height="26.6" fill="#55c5cc"/>
<rect x="894" y="479.8" width="2" height="17.6" fill="#55c5cc"/>
<rect x="901" y="488.7" width="2" height="8.7" fill="#14e0ee"/>
<rect x="909" y="492.6" width="2" height="4.8" fill="#14e0ee"/>
<polyline points="-5.3,506.5 2.3,518.1 9.9,528.6 17.4,537.5 25.0,544.4 32.6,552.3 40.1,560.2 47.7,567.1 55.3,573.4 62.8,578.5 70.4,582.8 78.0,585.8 85.5,585.8 93.1,584.4 100.7,583.4 108.2,584.4 115.8,586.4 123.4,588.4 130.9,589.7 138.5,591.1 146.1,592.1 153.6,592.3 161.2,591.7 168.8,589.7 176.3,586.8 183.9,581.9 191.5,575.9 199.0,570.0 206.6,564.5 214.2,555.0 221.7,543.5 229.3,532.6 236.9,522.7 244.4,512.4 252.0,504.0 259.6,496.7 267.2,489.2 274.7,481.7 282.3,475.0 289.9,469.4 297.4,466.1 305.0,462.9 312.6,461.6 320.1,461.2 327.7,463.1 335.3,467.1 342.8,472.0 350.4,476.4 358.0,477.9 365.5,479.3 373.1,481.3 380.7,482.7 388.2,483.8 395.8,484.5 403.4,486.5 410.9,490.0 418.5,493.8 426.1,497.9 433.6,502.9 441.2,509.2 448.8,514.7 456.3,519.4 463.9,522.4 471.5,522.4 479.0,520.6 486.6,520.6 494.2,522.6 501.7,525.9 509.3,530.5 516.9,534.8 524.4,538.4 532.0,542.3 539.6,546.6 547.1,552.2 554.7,557.5 562.3,563.5 569.9,569.8 577.4,575.2 585.0,579.3 592.6,581.0 600.1,581.6 607.7,582.0 615.3,582.6 622.8,583.6 630.4,584.6 638.0,586.2 645.5,588.5 653.1,591.5 660.7,593.9 668.2,595.4 675.8,594.8 683.4,592.1 690.9,589.5 698.5,587.0 706.1,583.6 713.6,579.7 721.2,575.3 728.8,571.8 736.3,568.4 743.9,564.9 751.5,561.3 759.0,557.4 766.6,553.8 774.2,548.9 781.7,544.1 789.3,539.0 796.9,534.3 804.4,530.3 812.0,526.4 819.6,523.4 827.1,521.9 834.7,520.9 842.3,519.5 849.8,514.9 857.4,509.4 865.0,502.7 872.6,496.6 880.1,490.3 887.7,484.4 895.3,480.4 902.8,478.1 910.4,477.7" fill="none" stroke="#dcab14" stroke-width="1.8" stroke-opacity="0.78" stroke-linejoin="round"/>
<polyline points="-5.3,558.5 2.3,563.5 9.9,560.7 17.4,563.1 25.0,571.0 32.6,583.8 40.1,590.7 47.7,596.3 55.3,597.6 62.8,599.2 70.4,603.0 78.0,597.6 85.5,585.2 93.1,579.5 100.7,578.5 108.2,588.2 115.8,594.7 123.4,598.0 130.9,595.7 138.5,596.1 146.1,596.6 153.6,593.7 161.2,590.7 168.8,582.4 176.3,575.0 183.9,563.1 191.5,556.2 199.0,548.8 206.6,537.5 214.2,519.7 221.7,500.0 229.3,487.2 236.9,478.9 244.4,471.0 252.0,467.5 259.6,468.1 267.2,457.6 274.7,451.3 282.3,445.4 289.9,449.3 297.4,452.1 305.0,451.3 312.6,457.6 320.1,460.6 327.7,468.5 335.3,482.9 342.8,490.7 350.4,492.7 358.0,483.6 365.5,486.2 373.1,489.2 380.7,491.1 388.2,489.0 395.8,485.5 403.4,496.4 410.9,503.6 418.5,507.8 426.1,513.1 433.6,522.0 441.2,531.5 448.8,539.2 456.3,540.3 463.9,533.8 471.5,522.6 479.0,513.7 486.6,518.6 494.2,530.5 501.7,540.3 509.3,549.6 516.9,552.6 524.4,553.9 532.0,557.5 539.6,564.0 547.1,573.3 554.7,580.0 562.3,586.6 569.9,596.0 577.4,598.0 585.0,593.5 592.6,589.5 600.1,583.6 607.7,584.2 615.3,585.0 622.8,587.0 630.4,589.1 638.0,593.5 645.5,598.4 653.1,604.3 660.7,603.3 668.2,600.8 675.8,591.5 683.4,582.6 690.9,577.1 698.5,575.7 706.1,569.8 713.6,562.5 721.2,557.0 728.8,556.4 736.3,555.0 743.9,553.0 751.5,548.1 759.0,541.2 766.6,534.3 774.2,531.7 781.7,524.8 789.3,518.9 796.9,516.5 804.4,513.6 812.0,510.6 819.6,512.6 827.1,514.9 834.7,517.3 842.3,513.0 849.8,497.2 857.4,487.3 865.0,478.5 872.6,470.6 880.1,464.1 887.7,458.3 895.3,464.7 902.8,470.6 910.4,472.9" fill="none" stroke="#e6e6e6" stroke-width="1.8" stroke-opacity="0.8" stroke-linejoin="round"/>
<rect x="942" y="0" width="1" height="649" fill="#d2d2d2"/>
<rect x="0" y="414" width="1016" height="1" fill="#d2d2d2"/>
<rect x="0" y="622" width="1016" height="1" fill="#d2d2d2"/>
<text x="950" y="84.0" fill="#cecece" stroke="#cecece" stroke-width="0.4" font-size="12" font-weight="normal" text-anchor="start" letter-spacing="-0.3">5200</text>
<text x="950" y="124.0" fill="#cecece" stroke="#cecece" stroke-width="0.4" font-size="12" font-weight="normal" text-anchor="start" letter-spacing="-0.3">5000</text>
<text x="950" y="164.0" fill="#cecece" stroke="#cecece" stroke-width="0.4" font-size="12" font-weight="normal" text-anchor="start" letter-spacing="-0.3">4800</text>
<text x="950" y="204.0" fill="#cecece" stroke="#cecece" stroke-width="0.4" font-size="12" font-weight="normal" text-anchor="start" letter-spacing="-0.3">4600</text>
<text x="950" y="243.0" fill="#cecece" stroke="#cecece" stroke-width="0.4" font-size="12" font-weight="normal" text-anchor="start" letter-spacing="-0.3">4400</text>
<text x="950" y="283.0" fill="#cecece" stroke="#cecece" stroke-width="0.4" font-size="12" font-weight="normal" text-anchor="start" letter-spacing="-0.3">4200</text>
<text x="950" y="403.0" fill="#cecece" stroke="#cecece" stroke-width="0.4" font-size="12" font-weight="normal" text-anchor="start" letter-spacing="-0.3">3600</text>
<text x="950" y="435.3" fill="#cecece" stroke="#cecece" stroke-width="0.4" font-size="12" font-weight="normal" text-anchor="start" letter-spacing="-0.3">80.0000</text>
<text x="950" y="534.3" fill="#cecece" stroke="#cecece" stroke-width="0.4" font-size="12" font-weight="normal" text-anchor="start" letter-spacing="-0.3">−40.0000</text>
<text x="950" y="567.3" fill="#cecece" stroke="#cecece" stroke-width="0.4" font-size="12" font-weight="normal" text-anchor="start" letter-spacing="-0.3">−80.0000</text>
<text x="950" y="600.3" fill="#cecece" stroke="#cecece" stroke-width="0.4" font-size="12" font-weight="normal" text-anchor="start" letter-spacing="-0.3">−120.0000</text>
<rect x="943" y="279.3" width="72" height="16.30000000000001" fill="#9e9e9e" rx="1.5"/>
<text x="950" y="291.75000000000006" fill="#1a1a1a" stroke="#1a1a1a" stroke-width="0.2" font-size="12" font-weight="normal" text-anchor="start" letter-spacing="-0.05">4,160.9098</text>
<rect x="943" y="309.1" width="38" height="16.5" fill="#d6d018" rx="1.5"/>
<text x="950" y="321.65000000000003" fill="#1a1a1a" stroke="#1a1a1a" stroke-width="0.2" font-size="12" font-weight="normal" text-anchor="start" letter-spacing="-0.3">4012</text>
<rect x="943" y="326.4" width="72" height="16.600000000000023" fill="#e91e63" rx="1.5"/>
<text x="950" y="339.0" fill="#ffffff"  font-size="12" font-weight="bold" text-anchor="start" letter-spacing="-0.05">3,973.6000</text>
<rect x="943" y="354.2" width="72" height="16.80000000000001" fill="#35b5f5" rx="1.5"/>
<text x="950" y="366.90000000000003" fill="#1a1a1a" stroke="#1a1a1a" stroke-width="0.2" font-size="12" font-weight="normal" text-anchor="start" letter-spacing="-0.05">3,786.2902</text>
<rect x="943" y="450.4" width="55" height="16.80000000000001" fill="#ffffff" rx="1.5"/>
<text x="950" y="463.09999999999997" fill="#1a1a1a" stroke="#1a1a1a" stroke-width="0.2" font-size="12" font-weight="normal" text-anchor="start" letter-spacing="-0.3">29.5707</text>
<rect x="943" y="467.7" width="55" height="16.30000000000001" fill="#f9b916" rx="1.5"/>
<text x="950" y="480.15000000000003" fill="#1a1a1a" stroke="#1a1a1a" stroke-width="0.2" font-size="12" font-weight="normal" text-anchor="start" letter-spacing="-0.3">23.7691</text>
<rect x="943" y="484.4" width="48" height="16.600000000000023" fill="#14c8d8" rx="1.5"/>
<text x="950" y="497.0" fill="#1a1a1a" stroke="#1a1a1a" stroke-width="0.2" font-size="12" font-weight="normal" text-anchor="start" letter-spacing="-0.3">5.8016</text>
<rect x="946.5" y="4.5" width="69" height="49" rx="4" fill="#1b1b1b" stroke="#555" stroke-width="1"/>
<text x="950" y="21" fill="#e8e8e8" stroke="#e8e8e8" stroke-width="0.3" font-size="12" font-weight="normal" text-anchor="start" >MYR</text>
<text x="950" y="45" fill="#e8e8e8" stroke="#e8e8e8" stroke-width="0.3" font-size="12" font-weight="normal" text-anchor="start" >t</text>
<polyline points="1005.8,16.599999999999998 1008.3,19.099999999999998 1010.8,16.599999999999998" fill="none" stroke="#e0e0e0" stroke-width="1.2"/>
<polyline points="1005.8,40.6 1008.3,43.1 1010.8,40.6" fill="none" stroke="#e0e0e0" stroke-width="1.2"/>
<text x="7.5" y="19.7" fill="#d4d4d4" stroke="#d4d4d4" stroke-width="0.3" font-size="12" font-weight="normal" text-anchor="start" >FCPOc3</text>
<text x="58.8" y="19.7" fill="#d4d4d4" stroke="#d4d4d4" stroke-width="0.3" font-size="12" font-weight="normal" text-anchor="middle" >·</text>
<text x="65.3" y="19.7" fill="#d4d4d4" stroke="#d4d4d4" stroke-width="0.3" font-size="12" font-weight="normal" text-anchor="start" >1天</text>
<text x="90" y="19.7" fill="#d4d4d4" stroke="#d4d4d4" stroke-width="0.3" font-size="12" font-weight="normal" text-anchor="middle" >·</text>
<text x="96.2" y="19.7" fill="#d4d4d4" stroke="#d4d4d4" stroke-width="0.3" font-size="12" font-weight="normal" text-anchor="start" >MDX</text>
<text x="128.2" y="19.7" fill="#d4d4d4" stroke="#d4d4d4" stroke-width="0.3" font-size="12" font-weight="normal" text-anchor="middle" >·</text>
<text x="135" y="19.7" fill="#d4d4d4" stroke="#d4d4d4" stroke-width="0.3" font-size="12" font-weight="normal" text-anchor="start" >Trade Price</text>
<text x="203.5" y="19.7" fill="#d4d4d4" stroke="#d4d4d4" stroke-width="0.3" font-size="12" font-weight="normal" text-anchor="start" >开=</text>
<text x="224.2" y="19.7" fill="#d6cb1e" stroke="#d6cb1e" stroke-width="0.3" font-size="12" font-weight="normal" text-anchor="start" >3970</text>
<text x="256.5" y="19.7" fill="#d4d4d4" stroke="#d4d4d4" stroke-width="0.3" font-size="12" font-weight="normal" text-anchor="start" >高=</text>
<text x="277" y="19.7" fill="#d6cb1e" stroke="#d6cb1e" stroke-width="0.3" font-size="12" font-weight="normal" text-anchor="start" >4020</text>
<text x="309.5" y="19.7" fill="#d4d4d4" stroke="#d4d4d4" stroke-width="0.3" font-size="12" font-weight="normal" text-anchor="start" >低=</text>
<text x="329.8" y="19.7" fill="#d6cb1e" stroke="#d6cb1e" stroke-width="0.3" font-size="12" font-weight="normal" text-anchor="start" >3958</text>
<text x="362" y="19.7" fill="#d4d4d4" stroke="#d4d4d4" stroke-width="0.3" font-size="12" font-weight="normal" text-anchor="start" >收=</text>
<text x="382.3" y="19.7" fill="#d6cb1e" stroke="#d6cb1e" stroke-width="0.3" font-size="12" font-weight="normal" text-anchor="start" >4012</text>
<text x="415.2" y="19.7" fill="#d6cb1e" stroke="#d6cb1e" stroke-width="0.3" font-size="12" font-weight="normal" text-anchor="start" >47</text>
<text x="432" y="19.7" fill="#d6cb1e" stroke="#d6cb1e" stroke-width="0.3" font-size="12" font-weight="normal" text-anchor="start" >(+1.19%)</text>
<rect x="7.5" y="34" width="27.5" height="19" rx="3" fill="#1b1b1b" stroke="#4a4a4a"/>
<polyline points="23.5,40 20,43.7 23.5,47.4" fill="none" stroke="#e0e0e0" stroke-width="1.5"/>
<text x="7.5" y="66.5" fill="#d4d4d4" stroke="#d4d4d4" stroke-width="0.3" font-size="12" font-weight="normal" text-anchor="start" >BB 20 2</text>
<text x="58.8" y="66.5" fill="#d8265f" stroke="#d8265f" stroke-width="0.3" font-size="12" font-weight="normal" text-anchor="start" >3,973.6000</text>
<text x="125" y="66.5" fill="#9a9a9a" stroke="#9a9a9a" stroke-width="0.3" font-size="12" font-weight="normal" text-anchor="start" >4,160.9098</text>
<text x="191.2" y="66.5" fill="#3fa9ee" stroke="#3fa9ee" stroke-width="0.3" font-size="12" font-weight="normal" text-anchor="start" >3,786.2902</text>
<text x="7" y="435" fill="#d4d4d4" stroke="#d4d4d4" stroke-width="0.3" font-size="12" font-weight="normal" text-anchor="start" >MACD 12 26 close 9 EMA EMA</text>
<text x="184" y="435" fill="#1fbfd0" stroke="#1fbfd0" stroke-width="0.3" font-size="12" font-weight="normal" text-anchor="start" >5.8016</text>
<text x="226" y="435" fill="#ffffff"  font-size="12" font-weight="bold" text-anchor="start" >29.5707</text>
<text x="276" y="435" fill="#e4ac1e" stroke="#e4ac1e" stroke-width="0.3" font-size="12" font-weight="normal" text-anchor="start" >23.7691</text>
<rect x="830.5" y="422.5" width="23" height="23" rx="4" fill="#1b1b1b" stroke="#3c3c3c"/>
<rect x="858.5" y="422.5" width="23" height="23" rx="4" fill="#1b1b1b" stroke="#3c3c3c"/>
<rect x="886.5" y="422.5" width="23" height="23" rx="4" fill="#1b1b1b" stroke="#3c3c3c"/>
<rect x="914.5" y="422.5" width="23" height="23" rx="4" fill="#1b1b1b" stroke="#3c3c3c"/>
<path d="M842.5 439.2 V429.6 M838.4 433.5 L842.5 429.5 L846.6 433.5" fill="none" stroke="#e2e2e2" stroke-width="1.2" stroke-linecap="round" stroke-linejoin="round"/>
<path d="M865.3 430.4 H875.7 M868.6 430.2 V429.4 Q868.6 428.5 869.5 428.5 H871.5 Q872.4 428.5 872.4 429.4 V430.2 M866.3 431.2 L867.3 439.4 Q867.4 440.2 868.2 440.2 H872.8 Q873.6 440.2 873.7 439.4 L874.7 431.2" fill="none" stroke="#e2e2e2" stroke-width="1.2" stroke-linecap="round" stroke-linejoin="round"/>
<path d="M894.8 429.2 L898.5 432.2 L902.2 429.2 M894.8 439.9 L898.5 436.9 L902.2 439.9" fill="none" stroke="#e2e2e2" stroke-width="1.2" stroke-linecap="round" stroke-linejoin="round"/>
<path d="M921.7 432.5 V432 Q921.7 429.6 924.1 429.6 H929.2 Q931.6 429.6 931.6 432 V432.5 M921.7 436.3 V436.8 Q921.7 439.2 924.1 439.2 H929.2 Q931.6 439.2 931.6 436.8 V436.3" fill="none" stroke="#e2e2e2" stroke-width="1.2" stroke-linecap="round" stroke-linejoin="round"/>
<text x="32" y="640" fill="#cdcdcd"  font-size="12" font-weight="bold" text-anchor="middle" letter-spacing="0.2">2025</text>
<text x="183.5" y="640" fill="#cdcdcd"  font-size="12" font-weight="bold" text-anchor="middle" >2月</text>
<text x="327.5" y="640" fill="#cdcdcd"  font-size="12" font-weight="bold" text-anchor="middle" >3月</text>
<text x="471.5" y="640" fill="#cdcdcd"  font-size="12" font-weight="bold" text-anchor="middle" >4月</text>
<text x="630.5" y="640" fill="#cdcdcd"  font-size="12" font-weight="bold" text-anchor="middle" >5月</text>
<text x="781.5" y="640" fill="#cdcdcd"  font-size="12" font-weight="bold" text-anchor="middle" >6月</text>
<text x="932.5" y="640" fill="#cdcdcd"  font-size="12" font-weight="bold" text-anchor="middle" >7月</text>
<polygon points="988.5,636.5 985.0,642.2 978.0,642.2 974.5,636.5 978.0,630.8 985.0,630.8" fill="none" stroke="#e2e2e2" stroke-width="1.2"/>
<circle cx="981.5" cy="636.5" r="2.1" fill="none" stroke="#e2e2e2" stroke-width="1.2"/>
<text transform="translate(887,623.7) scale(1,1.075)" x="0" y="0" fill="#e2ebf7" font-size="30" letter-spacing="2.6">FX678</text>
</svg>
</body></html>
